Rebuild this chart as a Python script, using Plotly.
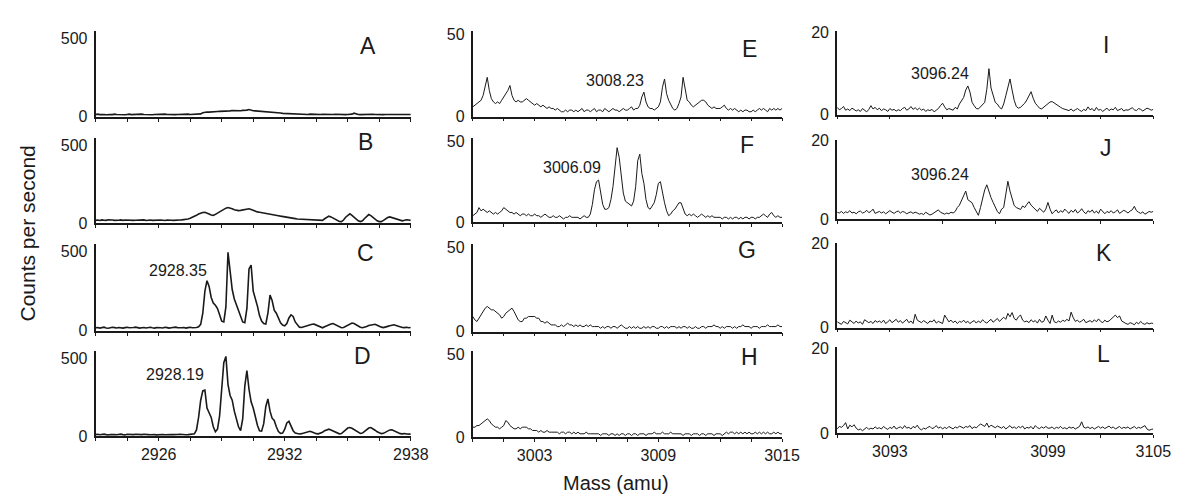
import plotly.graph_objects as go

W, H = 1183, 503

# ---------------- data (counts per second, sampled every 0.1 amu) ----------------
# column 1: 2923.0 .. 2938.0 ; column 2: 3000.0 .. 3015.0 ; column 3: 3090.0 .. 3105.0
col_start = [2923.0, 3000.0, 3090.0]
mass_step = 0.1

panel_A = [
    14, 16, 13, 15, 14, 12, 15, 14, 13, 16,
    14, 13, 15, 14, 12, 14, 16, 13, 14, 15,
    13, 14, 16, 14, 13, 15, 14, 12, 14, 15,
    14, 13, 15, 16, 14, 13, 14, 15, 13, 14,
    15, 14, 13, 14, 16, 14, 15, 14, 13, 15,
    18, 25, 28, 30, 29, 31, 32, 31, 33, 34,
    34, 36, 37, 38, 37, 39, 38, 40, 39, 38,
    40, 39, 42, 46, 40, 38, 37, 36, 37, 35,
    35, 33, 32, 30, 31, 29, 27, 25, 23, 21,
    20, 19, 18, 18, 17, 16, 17, 16, 15, 16,
    15, 14, 16, 15, 14, 15, 13, 14, 15, 14,
    14, 15, 13, 14, 15, 14, 13, 15, 14, 13,
    14, 15, 16, 22, 16, 14, 13, 14, 15, 14,
    13, 14, 15, 14, 13, 14, 15, 13, 14, 14,
    13, 14, 15, 14, 13, 14, 14, 15, 13, 14,
    14]

panel_B = [
    18, 20, 17, 21, 19, 18, 22, 19, 20, 18,
    17, 19, 21, 18, 20, 19, 17, 20, 18, 19,
    20, 18, 19, 21, 17, 19, 20, 18, 19, 21,
    18, 20, 19, 17, 20, 21, 19, 18, 20, 19,
    20, 21, 22, 24, 27, 31, 36, 42, 50, 58,
    64, 68, 70, 66, 58, 52, 50, 56, 64, 72,
    80, 90, 96, 100, 98, 92, 86, 82, 80, 82,
    84, 86, 90, 92, 88, 82, 76, 72, 70, 68,
    66, 63, 60, 57, 55, 53, 50, 48, 45, 42,
    40, 37, 35, 33, 31, 29, 27, 26, 25, 24,
    23, 22, 21, 20, 18, 17, 16, 15, 18, 28,
    38, 45, 40, 32, 24, 16, 11, 10, 20, 38,
    52, 60, 50, 38, 26, 15, 10, 15, 30, 45,
    55, 48, 36, 25, 15, 10, 10, 18, 28, 36,
    40, 36, 30, 24, 20, 17, 15, 18, 22, 20,
    18]

panel_C = [
    18, 20, 16, 19, 22, 17, 15, 18, 21, 19,
    17, 20, 18, 16, 19, 21, 18, 17, 20, 22,
    19, 16, 18, 20, 17, 19, 21, 18, 16, 19,
    20, 18, 17, 21, 19, 16, 18, 20, 22, 19,
    17, 18, 20, 16, 19, 21, 18, 17, 20, 24,
    40, 110, 250, 316, 280, 210, 175, 160, 140, 100,
    60, 55, 150, 495, 360, 260, 200, 160, 125, 85,
    55, 50, 140, 390, 415, 250, 205, 155, 95, 60,
    45, 42, 110, 225, 190, 130, 110, 80, 50, 35,
    30, 45, 80, 100, 90, 55, 35, 22, 20, 25,
    30, 34, 38, 40, 41, 35, 28, 20, 18, 25,
    32, 38, 42, 45, 38, 30, 22, 18, 20, 28,
    36, 42, 48, 45, 36, 28, 22, 18, 20, 26,
    32, 36, 40, 40, 34, 27, 22, 19, 21, 27,
    31, 35, 37, 33, 27, 22, 20, 19, 21, 18,
    20]

panel_D = [
    10, 12, 9, 11, 13, 10, 8, 11, 12, 10,
    9, 11, 13, 10, 8, 12, 11, 9, 10, 12,
    11, 9, 10, 12, 13, 10, 9, 11, 10, 8,
    10, 12, 11, 9, 10, 13, 11, 10, 9, 11,
    12, 10, 11, 9, 10, 12, 12, 15, 40, 120,
    230, 290, 295, 180, 150, 120, 60, 28, 45, 130,
    300, 470, 510, 330, 260, 230, 160, 110, 60, 36,
    110, 320, 420, 300, 220, 180, 120, 70, 35, 32,
    80, 190, 238, 160, 115, 100, 60, 30, 18, 20,
    45, 85, 95, 60, 35, 20, 15, 14, 16, 20,
    26, 30, 31, 26, 20, 16, 15, 18, 25, 35,
    42, 45, 40, 33, 25, 18, 15, 17, 26, 40,
    52, 55, 50, 42, 32, 22, 17, 20, 30, 42,
    52, 55, 48, 38, 28, 20, 16, 18, 25, 34,
    40, 41, 35, 27, 20, 16, 15, 17, 14, 15,
    13]

panel_E = [
    6, 7, 8, 9, 10, 13, 18, 24, 16, 11,
    9, 8, 9, 8, 10, 12, 14, 16, 19, 13,
    10, 9, 10, 9, 9, 10, 11, 10, 9, 8,
    7, 8, 7, 6, 7, 6, 5, 6, 5, 5,
    4, 5, 4, 3, 3, 4, 3, 4, 4, 3,
    4, 3, 4, 5, 3, 4, 4, 3, 4, 5,
    3, 4, 4, 3, 5, 4, 3, 4, 5, 4,
    4, 3, 4, 5, 4, 4, 5, 6, 4, 5,
    5, 7, 12, 15, 9, 6, 5, 5, 4, 5,
    6, 9, 18, 23, 14, 10, 7, 5, 4, 5,
    8, 12, 24, 16, 10, 9, 7, 6, 7, 8,
    9, 10, 10, 9, 7, 6, 5, 6, 5, 5,
    5, 6, 7, 5, 4, 5, 4, 5, 4, 3,
    4, 3, 4, 4, 3, 3, 4, 3, 4, 5,
    4, 5, 4, 3, 5, 4, 5, 4, 5, 4,
    5]

panel_F = [
    4, 5, 6, 9, 7, 8, 7, 6, 7, 6,
    5, 6, 5, 6, 7, 9, 8, 7, 6, 6,
    5, 6, 5, 4, 5, 5, 4, 5, 4, 4,
    5, 4, 4, 3, 4, 5, 4, 3, 3, 4,
    3, 3, 4, 3, 2, 3, 3, 4, 3, 3,
    3, 3, 2, 3, 4, 3, 3, 5, 11, 20,
    25, 26, 18, 11, 8, 8, 9, 14, 22, 34,
    46, 40, 28, 18, 13, 12, 11, 10, 13, 22,
    38, 42, 30, 24, 14, 9, 8, 10, 12, 17,
    24, 25, 18, 12, 7, 4, 5, 7, 8, 10,
    12, 12, 8, 5, 4, 5, 4, 5, 4, 3,
    4, 5, 4, 3, 4, 3, 4, 3, 3, 3,
    3, 2, 3, 3, 2, 3, 2, 3, 3, 2,
    3, 2, 3, 3, 2, 3, 3, 2, 3, 3,
    4, 5, 4, 3, 5, 6, 4, 3, 4, 3,
    3]

panel_G = [
    9, 7, 6, 8, 10, 12, 14, 15, 14, 13,
    13, 12, 11, 10, 8, 9, 11, 12, 13, 14,
    12, 9, 7, 6, 6, 8, 8, 9, 9, 9,
    9, 8, 8, 6, 6, 5, 6, 5, 4, 4,
    4, 3, 3, 4, 3, 4, 5, 4, 4, 3,
    4, 3, 4, 3, 3, 4, 3, 4, 3, 3,
    3, 3, 2, 3, 2, 3, 3, 2, 3, 3,
    2, 3, 4, 3, 2, 2, 3, 2, 3, 2,
    3, 2, 2, 3, 2, 3, 2, 3, 3, 2,
    2, 3, 3, 2, 3, 2, 3, 3, 3, 2,
    3, 2, 3, 3, 2, 3, 2, 2, 3, 2,
    2, 3, 3, 2, 3, 3, 3, 4, 3, 3,
    2, 3, 2, 3, 3, 3, 2, 3, 2, 3,
    3, 4, 3, 3, 3, 2, 3, 3, 3, 2,
    3, 3, 3, 4, 3, 3, 3, 3, 4, 3,
    3]

panel_H = [
    6, 6, 7, 7, 8, 9, 10, 11, 10, 8,
    7, 6, 6, 5, 6, 7, 10, 9, 7, 6,
    5, 5, 6, 5, 6, 6, 6, 5, 5, 4,
    4, 4, 3, 4, 3, 3, 4, 3, 3, 3,
    3, 3, 2, 3, 3, 2, 3, 3, 2, 3,
    2, 3, 2, 2, 2, 3, 2, 2, 2, 2,
    2, 2, 1, 2, 2, 2, 1, 2, 2, 1,
    2, 1, 2, 2, 1, 2, 2, 1, 2, 2,
    1, 2, 2, 2, 1, 2, 2, 2, 3, 2,
    2, 2, 3, 2, 2, 2, 3, 2, 2, 2,
    2, 2, 1, 2, 2, 2, 1, 2, 2, 2,
    1, 2, 2, 1, 2, 2, 2, 1, 2, 2,
    2, 1, 2, 3, 2, 3, 3, 2, 3, 2,
    3, 2, 3, 2, 3, 2, 2, 3, 2, 3,
    2, 3, 2, 3, 2, 2, 3, 2, 3, 2,
    2]

panel_I = [
    1.8, 1.2, 1.5, 2.0, 1.1, 1.4, 1.0, 1.6, 1.3, 0.9,
    1.2, 0.8, 1.5, 1.1, 0.7, 1.3, 2.2, 1.4, 1.8, 1.2,
    1.6, 1.0, 1.4, 1.2, 0.8, 1.5, 1.1, 1.3, 0.9, 1.2,
    1.0, 1.5, 1.8, 1.1, 1.4, 2.0, 1.3, 1.7, 1.2, 1.6,
    1.1, 1.4, 0.8, 1.2, 1.0, 1.3, 0.7, 1.1, 1.5, 2.2,
    2.8, 1.9, 1.2, 1.5, 1.3, 1.1, 1.8, 1.4, 2.6, 3.4,
    4.2, 6.0, 7.0, 5.5, 3.0, 2.2, 1.5, 1.4, 2.0, 2.6,
    3.0, 6.2, 11.2, 6.5, 4.6, 3.0, 2.6, 1.8, 1.4, 2.6,
    4.6, 7.0, 8.7, 6.0, 3.5, 2.0, 1.6, 1.8, 2.2, 2.8,
    3.6, 4.6, 5.6, 4.0, 2.8, 2.2, 1.6, 1.4, 1.8, 2.4,
    2.8, 3.1, 3.2, 2.8, 2.5, 2.2, 1.8, 1.5, 1.3, 1.2,
    1.0, 1.4, 0.9, 1.2, 1.5, 1.1, 0.8, 1.3, 1.0, 1.9,
    1.2, 1.5, 0.9, 1.8, 1.1, 1.3, 0.8, 1.2, 1.6, 1.0,
    1.4, 1.2, 1.8, 1.0, 1.3, 1.5, 0.9, 1.2, 1.1, 1.4,
    1.7, 1.2, 1.0, 1.5, 1.3, 0.9, 1.2, 1.6, 1.4, 1.1,
    1.3]

panel_J = [
    1.8, 1.6, 2.0, 1.5, 1.9, 1.7, 2.2, 1.6, 1.8, 1.4,
    1.9, 2.1, 1.6, 1.8, 2.3, 1.7, 2.0, 2.6, 1.5, 1.8,
    2.0, 1.6, 1.9, 1.4, 1.7, 2.2, 1.8, 1.5, 1.9, 2.1,
    1.6, 2.0, 1.8, 1.4, 1.7, 1.9, 1.5, 1.8, 1.6, 1.3,
    1.5, 1.2, 1.8, 1.4, 1.1, 1.3, 1.6, 2.1, 2.4, 1.8,
    1.5, 1.3, 1.6, 1.4, 1.8, 1.6, 2.0, 3.0, 3.6, 4.8,
    6.0, 7.2, 5.0, 4.5, 4.2, 3.0, 1.8, 1.0, 3.0, 5.5,
    7.5, 8.8, 7.0, 5.5, 4.3, 3.0, 2.0, 1.4, 2.6, 3.0,
    6.0, 9.7, 7.2, 5.0, 3.5, 3.0, 2.8, 2.5, 3.4, 3.0,
    3.8, 4.5, 3.6, 3.0, 2.6, 2.0, 2.8, 2.4, 1.8, 2.6,
    4.3, 2.6, 1.4, 2.0, 2.4, 1.6, 2.2, 1.8, 2.6, 2.0,
    1.5, 2.3, 1.8, 2.5, 1.6, 2.0, 2.7, 1.9, 1.4, 2.2,
    1.8, 2.4, 1.6, 2.1, 1.5, 2.6, 1.9, 1.4, 2.0, 1.7,
    2.2, 1.6, 1.9, 2.4, 1.5, 1.8, 2.3, 2.0, 1.6, 2.1,
    2.4, 3.3, 2.2, 1.8, 1.5, 1.9, 1.3, 1.6, 2.0, 1.8,
    2.0]

panel_K = [
    1.4, 1.0, 0.8, 1.5, 1.2, 0.9, 1.8, 1.3, 1.0, 1.6,
    1.1, 1.4, 0.8, 1.9, 1.6, 1.2, 1.5, 1.0, 1.7, 1.3,
    1.6, 1.2, 1.8, 1.0, 1.4, 1.9, 1.2, 1.5, 2.0, 1.3,
    1.7, 1.1, 1.5, 2.0, 1.2, 1.6, 1.0, 3.2, 1.8, 1.4,
    1.2, 1.7, 1.3, 1.0, 1.6, 1.4, 1.9, 1.1, 1.5, 1.3,
    1.0, 3.0, 2.2, 1.4, 1.8, 1.2, 1.6, 1.0, 1.5, 1.3,
    1.8, 1.2, 1.5, 1.0, 1.4, 1.7, 1.1, 1.6, 1.2, 1.9,
    1.4, 1.1, 1.6, 2.0, 1.3, 1.8, 2.2, 1.5, 1.9, 2.5,
    2.0, 3.4, 2.6, 3.6, 2.2, 1.8, 2.6, 3.0, 1.8, 1.4,
    1.6, 1.2, 1.9, 1.4, 1.7, 1.1, 2.0, 1.3, 1.5, 2.8,
    1.8, 1.0, 3.0, 1.4, 1.2, 1.6, 1.3, 1.8, 1.5, 2.0,
    1.6, 3.7, 2.4, 1.5, 1.8, 1.3, 1.6, 2.0, 1.2, 1.5,
    1.7, 1.3, 1.9, 1.4, 2.1, 1.5, 1.2, 1.8, 1.4, 1.6,
    2.0, 2.6, 3.0, 2.4, 2.8, 1.6, 1.2, 1.0, 0.8, 1.2,
    1.0, 0.7, 1.3, 0.9, 1.5, 1.0, 0.8, 1.2, 0.9, 1.1,
    1.0]

panel_L = [
    1.0, 1.6, 1.4, 1.8, 2.5, 1.0, 1.9, 1.5, 2.0, 1.2,
    0.8, 1.0, 0.6, 1.1, 1.4, 0.9, 1.2, 1.0, 1.5, 1.1,
    1.3, 1.0, 1.6, 1.2, 0.9, 1.4, 1.1, 1.7, 1.0, 1.3,
    1.5, 1.1, 1.8, 1.2, 1.4, 1.0, 1.6, 1.3, 1.9, 1.1,
    0.8, 1.2, 1.0, 1.4, 1.6, 1.1, 1.3, 1.8, 1.2, 1.5,
    1.0, 1.4, 1.1, 1.6, 1.3, 1.0, 1.5, 1.2, 1.7, 1.4,
    1.2, 1.6, 1.4, 1.8, 1.1, 1.5, 1.3, 1.7, 2.2, 1.9,
    1.6, 2.4, 1.4, 1.9, 1.6, 1.3, 1.7, 1.5, 1.2, 1.6,
    1.0, 1.4, 1.8, 1.2, 1.5, 1.1, 1.6, 1.3, 1.7, 1.0,
    1.4, 1.2, 1.6, 1.0, 1.8, 1.3, 1.1, 1.5, 1.2, 1.6,
    1.2, 1.2, 1.5, 1.0, 1.4, 1.2, 1.6, 1.1, 1.3, 1.0,
    1.5, 1.2, 1.4, 1.0, 1.3, 1.6, 2.7, 1.4, 1.2, 1.5,
    1.1, 1.4, 1.0, 1.3, 1.6, 1.2, 1.5, 1.1, 1.4, 1.7,
    1.2, 1.5, 1.0, 1.3, 1.6, 1.1, 1.4, 1.2, 1.5, 1.0,
    1.3, 1.6, 1.1, 1.4, 1.2, 1.5, 1.8, 1.0, 0.7, 0.9,
    1.0]

panel_letters = ["A", "B", "C", "D", "E", "F", "G", "H", "I", "J", "K", "L"]
panel_data = [panel_A, panel_B, panel_C, panel_D,
              panel_E, panel_F, panel_G, panel_H,
              panel_I, panel_J, panel_K, panel_L]

y_max_label = [500, 50, 20]
y_range_top = [545, 52.0, 20.25]

x_label_vals = [[2926, 2932, 2938], [3003, 3009, 3015], [3092.5, 3100, 3105]]
x_label_text = [["2926", "2932", "2938"], ["3003", "3009", "3015"], ["3093", "3099", "3105"]]
x_tick_step = [1.5, 1.5, 2.5]
x_span = 15.0

peak_labels = [("2928.35", 2, 173, 264), ("2928.19", 3, 170, 371),
               ("3008.23", 4, 616, 68), ("3006.09", 5, 573, 157),
               ("3096.24", 8, 946, 60), ("3096.24", 9, 946, 165)]

# ---------------- layout geometry (pixels) ----------------
col_px = [(89, 409), (472, 786), (842, 1163)]
row_px = [[(17, 105), (127, 215), (237, 326), (347, 435)],
          [(17, 105), (127, 214), (237, 327), (347, 436)],
          [(17, 103), (129, 211), (235, 323), (343, 432)]]
letter_px = [(366, 32), (363, 131), (363, 246), (360, 352),
             (753, 35), (750, 134), (750, 243), (753, 353),
             (1115, 31), (1115, 137), (1113, 246), (1112, 350)]

FONT = "Liberation Sans, Arial, Helvetica, sans-serif"
INK = "#1a1a1a"

fig = go.Figure()
layout = dict(
    width=W, height=H,
    margin=dict(l=0, r=0, t=0, b=0),
    paper_bgcolor="white", plot_bgcolor="white",
    showlegend=False,
    font=dict(family=FONT, color=INK),
)

def px_x(p):
    return p / W

def px_y(p):
    return 1 - p / H

annotations = []
for k, ys in enumerate(panel_data):
    col, row = divmod(k, 4)
    idx = k + 1
    sfx = "" if idx == 1 else str(idx)
    start = col_start[col]
    xs = [round(start + mass_step * i, 2) for i in range(len(ys))]
    fig.add_trace(go.Scatter(
        x=xs, y=ys, mode="lines",
        line=dict(color=INK, width=1.6 if col == 0 else 1.0),
        xaxis="x" + sfx, yaxis="y" + sfx, hoverinfo="skip"))

    x0, x1 = col_px[col]
    top, bot = row_px[col][row]
    nt = int(round(x_span / x_tick_step[col]))
    tvals = [start + x_tick_step[col] * j for j in range(nt + 1)]
    ttext = []
    for v in tvals:
        lab = ""
        for lv, lt in zip(x_label_vals[col], x_label_text[col]):
            if abs(lv - v) < 1e-6:
                lab = lt
        ttext.append(lab)
    bottom = row == 3
    layout["xaxis" + sfx] = dict(
        domain=[px_x(x0), px_x(x1)], anchor="y" + sfx,
        range=[start, start + x_span],
        showline=True, linecolor=INK, linewidth=2 if col == 0 else 1.5,
        ticks="outside", ticklen=3, tickwidth=1, tickcolor=INK,
        tickmode="array", tickvals=tvals, ticktext=ttext,
        showticklabels=bottom, tickfont=dict(size=16, family=FONT, color=INK),
        showgrid=False, zeroline=False, fixedrange=True)
    layout["yaxis" + sfx] = dict(
        domain=[px_y(bot), px_y(top)], anchor="x" + sfx,
        range=[0, y_range_top[col]],
        showline=True, linecolor=INK, linewidth=2,
        ticks="", tickmode="array", tickvals=[0, y_max_label[col]],
        tickfont=dict(size=16, family=FONT, color=INK),
        ticklabelstandoff=3,
        showgrid=False, zeroline=False, fixedrange=True)

    lx, ly = letter_px[k]
    annotations.append(dict(
        text=panel_letters[k], x=px_x(lx), y=px_y(ly), xref="paper", yref="paper",
        showarrow=False, xanchor="center", yanchor="middle",
        font=dict(size=23, family=FONT, color=INK)))

for txt, k, lx, ly in peak_labels:
    annotations.append(dict(
        text=txt, x=px_x(lx), y=px_y(ly), xref="paper", yref="paper",
        showarrow=False, xanchor="center", yanchor="middle",
        font=dict(size=16, family=FONT, color=INK)))

annotations.append(dict(
    text="Mass (amu)", x=px_x(617), y=px_y(483), xref="paper", yref="paper",
    showarrow=False, xanchor="center", yanchor="middle",
    font=dict(size=20, family=FONT, color=INK)))
annotations.append(dict(
    text="Counts per second", x=px_x(20), y=px_y(226), xref="paper", yref="paper",
    showarrow=False, xanchor="center", yanchor="middle", textangle=-90,
    font=dict(size=21, family=FONT, color=INK)))

layout["annotations"] = annotations
fig.update_layout(**layout)
fig.write_html("out.html")
